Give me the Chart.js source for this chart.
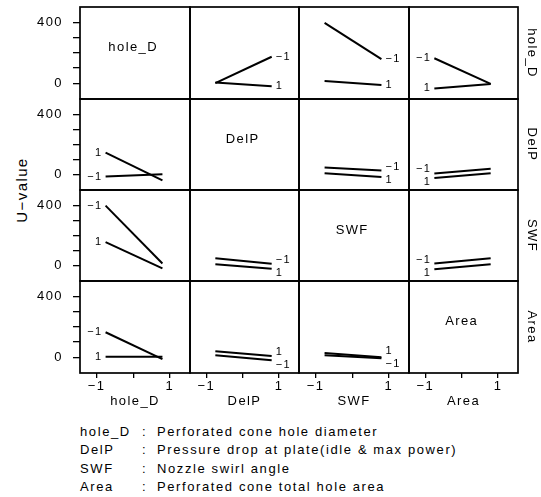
<!DOCTYPE html>
<html><head><meta charset="utf-8">
<script src="https://cdn.jsdelivr.net/npm/chart.js@4.4.1/dist/chart.umd.min.js"></script>
<style>
html,body{margin:0;padding:0;background:#fff;}
#wrap{position:relative;width:541px;height:497px;overflow:hidden;font-family:"Liberation Sans",Arial,sans-serif;color:#000;}
#wrap canvas{position:absolute;left:0;top:0;}
#ylab{position:absolute;left:-28px;top:181px;width:100px;height:18px;line-height:18px;text-align:center;transform:rotate(-90deg);font-size:15px;letter-spacing:1.4px;white-space:nowrap;}
#legend{position:absolute;left:80px;top:423px;font-size:13px;letter-spacing:1.6px;line-height:18.3px;}
#legend .row{display:flex;white-space:nowrap;}
#legend .k{width:62px;}
#legend .c{width:15px;}
</style></head><body><div id="wrap"><div id="ylab"></div><div id="legend"></div></div>
<script>
// ---------------- data ----------------
const factors = ['hole_D', 'DelP', 'SWF', 'Area'];
const factorDescriptions = [
  'Perforated cone hole diameter',
  'Pressure drop at plate(idle & max power)',
  'Nozzle swirl angle',
  'Perforated cone total hole area'
];
const levels = [-1, 1];
const levelLabels = ['\u22121', '1'];
const yTicks = [0, 100, 200, 300, 400];
const yTickLabels = ['0', '', '', '', '400'];
const xTicks = [-1, 0, 1];
const xTickLabels = ['\u22121', '', '1'];
const yAxisTitle = 'U\u2212value';

// Mean U-value at x-factor levels [-1, 1]; lines = row factor at level -1 (lo) and 1 (hi)
const holeD_by_DelP_lo = [0, 175];    const holeD_by_DelP_hi = [5, -20];
const holeD_by_SWF_lo  = [400, 160];  const holeD_by_SWF_hi  = [15, -12];
const holeD_by_Area_lo = [165, -5];   const holeD_by_Area_hi = [-35, -5];
const DelP_by_holeD_lo = [-15, 0];    const DelP_by_holeD_hi = [145, -40];
const DelP_by_SWF_lo   = [45, 25];    const DelP_by_SWF_hi   = [8, -18];
const DelP_by_Area_lo  = [5, 38];     const DelP_by_Area_hi  = [-25, 8];
const SWF_by_holeD_lo  = [400, 12];   const SWF_by_holeD_hi  = [155, -20];
const SWF_by_DelP_lo   = [47, 10];    const SWF_by_DelP_hi   = [7, -23];
const SWF_by_Area_lo   = [13, 47];    const SWF_by_Area_hi   = [-27, 7];
const Area_by_holeD_lo = [165, -13];  const Area_by_holeD_hi = [2, 2];
const Area_by_DelP_lo  = [13, -20];   const Area_by_DelP_hi  = [40, 7];
const Area_by_SWF_lo   = [13, -7];    const Area_by_SWF_hi   = [27, 0];

const cells = [
  [null, [holeD_by_DelP_lo, holeD_by_DelP_hi], [holeD_by_SWF_lo, holeD_by_SWF_hi], [holeD_by_Area_lo, holeD_by_Area_hi]],
  [[DelP_by_holeD_lo, DelP_by_holeD_hi], null, [DelP_by_SWF_lo, DelP_by_SWF_hi], [DelP_by_Area_lo, DelP_by_Area_hi]],
  [[SWF_by_holeD_lo, SWF_by_holeD_hi], [SWF_by_DelP_lo, SWF_by_DelP_hi], null, [SWF_by_Area_lo, SWF_by_Area_hi]],
  [[Area_by_holeD_lo, Area_by_holeD_hi], [Area_by_DelP_lo, Area_by_DelP_hi], [Area_by_SWF_lo, Area_by_SWF_hi], null]
];

// ---------------- layout / style ----------------
const W = 541, H = 497, YW = 70, RW = 21, XH = 36;
const colEdges = [80, 190, 299, 409, 518];
const rowEdges = [7, 99, 190, 281, 373];
const labelSideByColumn = ['left', 'right', 'right', 'left'];
const diagLabelY = 237;
const FAMILY = '"Liberation Sans", Arial, Helvetica, sans-serif';
const FONT = { family: FAMILY, size: 13 };
const LS = '1.4px';

document.getElementById('ylab').textContent = yAxisTitle;
const legendEl = document.getElementById('legend');
factors.forEach((f, i) => {
  const row = document.createElement('div'); row.className = 'row';
  row.innerHTML = '<span class="k"></span><span class="c">:</span><span class="d"></span>';
  row.querySelector('.k').textContent = f;
  row.querySelector('.d').textContent = factorDescriptions[i];
  legendEl.appendChild(row);
});

const panelPlugin = {
  id: 'panel',
  beforeDraw(chart) { chart.ctx.letterSpacing = LS; },
  afterDraw(chart, args, opts) {
    const { ctx, chartArea: a } = chart;
    ctx.save();
    ctx.letterSpacing = LS;
    ctx.strokeStyle = '#000'; ctx.lineWidth = 1.7;
    ctx.strokeRect(a.left, a.top, a.right - a.left, a.bottom - a.top);
    ctx.fillStyle = '#000';
    if (opts.diag) {
      ctx.font = '13px ' + FAMILY;
      ctx.textAlign = 'center'; ctx.textBaseline = 'middle';
      ctx.fillText(opts.diag, chart.scales.xt.getPixelForValue(0), chart.scales.y.getPixelForValue(diagLabelY));
    }
    const n = chart.data.datasets.length;
    if (n === 2) {
      const idx = opts.side === 'left' ? 0 : 1;
      const pts = chart.data.datasets.map((d, i) => {
        const p = chart.getDatasetMeta(i).data[idx];
        return { x: p.x, y: p.y, t: d.label };
      });
      const MIN = 13;
      if (Math.abs(pts[0].y - pts[1].y) < MIN) {
        const m = (pts[0].y + pts[1].y) / 2;
        const s = pts[0].y <= pts[1].y ? -1 : 1;
        pts[0].y = m + s * MIN / 2; pts[1].y = m - s * MIN / 2;
      }
      ctx.font = '11px ' + FAMILY; ctx.textBaseline = 'middle';
      pts.forEach(p => {
        if (opts.side === 'left') { ctx.textAlign = 'right'; ctx.fillText(p.t, p.x - 3, p.y); }
        else { ctx.textAlign = 'left'; ctx.fillText(p.t, p.x + 4, p.y); }
      });
    }
    ctx.restore();
  }
};

const wrap = document.getElementById('wrap');
for (let r = 0; r < 4; r++) {
  for (let c = 0; c < 4; c++) {
    const cv = document.createElement('canvas');
    cv.width = W; cv.height = H; cv.style.width = W + 'px'; cv.style.height = H + 'px';
    wrap.appendChild(cv);
    const pair = cells[r][c];
    const datasets = pair ? pair.map((vals, i) => ({
      label: levelLabels[i],
      data: levels.map((x, k) => ({ x: x, y: vals[k] })),
      borderColor: '#000', borderWidth: 2, pointRadius: 0, fill: false, tension: 0,
      xAxisID: 'x', yAxisID: 'y'
    })) : [];
    const showX = r === 3, showY = c === 0, showR = c === 3;
    new Chart(cv, {
      type: 'line',
      data: { datasets },
      options: {
        responsive: false, animation: false, devicePixelRatio: 1, events: [],
        layout: { padding: {
          left: colEdges[c] - (showY ? YW : 0),
          right: W - colEdges[c + 1] - (showR ? RW : 0),
          top: rowEdges[r],
          bottom: H - rowEdges[r + 1] - (showX ? XH : 0)
        } },
        plugins: { legend: { display: false }, tooltip: { enabled: false },
          panel: { diag: r === c ? factors[r] : null, side: labelSideByColumn[c] } },
        scales: {
          x: { type: 'linear', display: false, min: -1.9, max: 1.97,
            afterFit: s => { s.height = 0; s.paddingLeft = 0; s.paddingRight = 0; } },
          xt: { type: 'linear', position: 'bottom', display: showX, min: -1.45, max: 1.55,
            afterBuildTicks: s => { s.ticks = xTicks.map(v => ({ value: v })); },
            ticks: { callback: v => { const i = xTicks.indexOf(v); return i >= 0 ? xTickLabels[i] : ''; },
              color: '#000', font: FONT, padding: 1, maxRotation: 0, autoSkip: false },
            grid: { display: true, drawOnChartArea: false, drawTicks: true, tickLength: 5, color: '#000', lineWidth: 1.3 },
            border: { display: false },
            title: { display: true, text: factors[c], color: '#000', font: FONT, padding: 0 },
            afterFit: s => { s.height = showX ? XH : 0; s.paddingLeft = 0; s.paddingRight = 0; } },
          y: { type: 'linear', position: 'left', display: showY, min: -105, max: 505,
            afterBuildTicks: s => { s.ticks = yTicks.map(v => ({ value: v })); },
            ticks: { callback: v => { const i = yTicks.indexOf(v); return i >= 0 ? yTickLabels[i] : ''; },
              color: '#000', font: FONT, padding: 10, autoSkip: false },
            grid: { display: true, drawOnChartArea: false, drawTicks: true, tickLength: 7, color: '#000', lineWidth: 1.3 },
            border: { display: false },
            afterFit: s => { s.width = showY ? YW : 0; s.paddingTop = 0; s.paddingBottom = 0; } },
          yr: { type: 'linear', position: 'right', display: showR,
            ticks: { display: false }, grid: { display: false }, border: { display: false },
            title: { display: true, text: factors[r], color: '#000', font: FONT, padding: 0 },
            afterFit: s => { s.width = showR ? RW : 0; s.paddingTop = 0; s.paddingBottom = 0; } }
        }
      },
      plugins: [panelPlugin]
    });
  }
}
</script></body></html>
